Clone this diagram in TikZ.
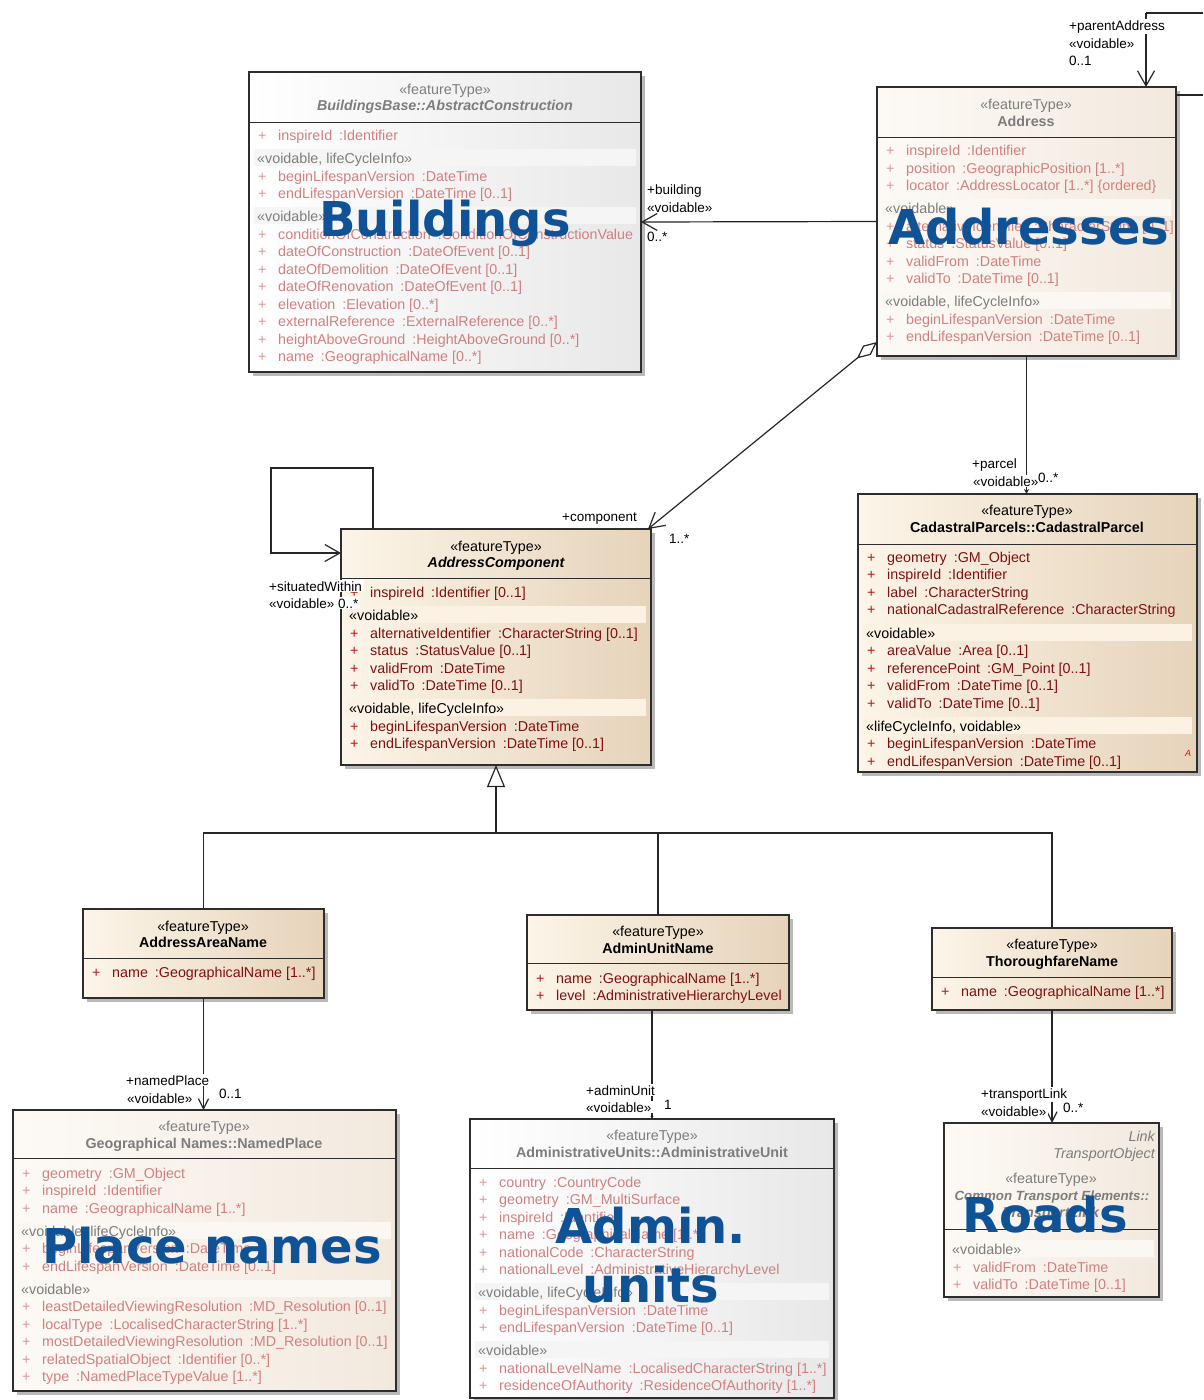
\documentclass[tikz,border=0pt]{standalone}
\usepackage{fontspec}
\setmainfont{Liberation Sans}
\newfontfamily\bigfont{DejaVu Sans}
\usetikzlibrary{arrows.meta,calc,fit}
\definecolor{fullL}{RGB}{252,245,232}
\definecolor{fullR}{RGB}{230,211,186}
\definecolor{fullBand}{RGB}{251,242,228}
\definecolor{fullPlus}{RGB}{190,20,20}
\definecolor{fullAttr}{RGB}{128,16,16}
\definecolor{fadL}{RGB}{253,250,246}
\definecolor{fadR}{RGB}{242,233,222}
\definecolor{fadBand}{RGB}{251,247,242}
\definecolor{fadPlus}{RGB}{222,150,150}
\definecolor{fadAttr}{RGB}{208,128,128}
\definecolor{fadHdr}{RGB}{125,125,125}
\definecolor{grayL}{RGB}{255,255,255}
\definecolor{grayR}{RGB}{232,232,232}
\definecolor{grayBand}{RGB}{245,245,245}
\definecolor{bordc}{RGB}{45,45,45}
\definecolor{shadc}{RGB}{185,185,185}
\definecolor{bigblue}{RGB}{16,82,150}
\newcount\tcnt
\newcommand\hfont{\fontsize{14.3}{16}\selectfont}
\newcommand\lfont{\fontsize{13.5}{15}\selectfont}
\newcommand\gp{\hspace{7pt}}
\newcommand\cbox[8]{%
  \fill[shadc] (#2+4,#3+4) rectangle (#4+4,#5+4);
  \node[fit={(#2,#3) (#4,#5)}, inner sep=0pt, outer sep=0pt, left color=#6, right color=#7, draw=bordc, line width=1.3pt] (#1) {};
  \draw[bordc, line width=1pt] (#2,#8) -- (#4,#8);}
\newcommand\tx[4][]{\global\advance\tcnt by 1\relax\node[txt,#1] (x\the\tcnt) at (#2,#3) {#4};}
\newcommand\attr[3]{\global\advance\tcnt by 1\relax
  \node[txt,text=\pc] (p\the\tcnt) at (#1+9,#2+5) {+};
  \node[txt,text=\ac] (a\the\tcnt) at (#1+29,#2+5) {#3};}
\newcommand\sect[4]{\global\advance\tcnt by 1\relax
  \fill[fill=\bandc] (#1+5,#3-9) rectangle (#2-5,#3+8);
  \node[txt,text=\hc] (s\the\tcnt) at (#1+8,#3+5) {#4};}
\begin{document}
\begin{tikzpicture}[x=1pt,y=-1pt,
  txt/.style={anchor=base west, inner sep=0pt, font=\hfont},
  lbl/.style={anchor=base west, inner sep=1pt, fill=white, font=\lfont, text=black},
  conn/.style={draw=black!85, line width=1.2pt},
  nav/.style={-{Straight Barb[length=15pt,width=17pt]}},
  big/.style={anchor=base, inner sep=0pt, text=bigblue, font=\bigfont\bfseries\fontsize{48}{50}\selectfont}]
\fill[white] (0,0) rectangle (1203,1400);
\useasboundingbox (0,0) rectangle (1203,1400);

% ---------------- Buildings
\def\pc{fadPlus}\def\ac{fadAttr}\def\hc{fadHdr}\def\bandc{grayBand}
\cbox{bld}{249}{72}{641}{372}{grayL}{grayR}{122}
\tx[anchor=base,text=fadHdr]{445}{94}{«featureType»}
\tx[anchor=base,text=fadHdr,font=\hfont\bfseries\itshape]{445}{110}{BuildingsBase::AbstractConstruction}
\attr{249}{135}{inspireId\gp:Identifier}
\sect{249}{641}{158}{«voidable, lifeCycleInfo»}
\attr{249}{176}{beginLifespanVersion\gp:DateTime}
\attr{249}{193}{endLifespanVersion\gp:DateTime [0..1]}
\sect{249}{641}{216}{«voidable»}
\attr{249}{234}{conditionOfConstruction\gp:ConditionOfConstructionValue}
\attr{249}{251}{dateOfConstruction\gp:DateOfEvent [0..1]}
\attr{249}{269}{dateOfDemolition\gp:DateOfEvent [0..1]}
\attr{249}{286}{dateOfRenovation\gp:DateOfEvent [0..1]}
\attr{249}{304}{elevation\gp:Elevation [0..*]}
\attr{249}{321}{externalReference\gp:ExternalReference [0..*]}
\attr{249}{339}{heightAboveGround\gp:HeightAboveGround [0..*]}
\attr{249}{356}{name\gp:GeographicalName [0..*]}

% ---------------- Address
\def\pc{fadPlus}\def\ac{fadAttr}\def\hc{fadHdr}\def\bandc{fadBand}
\cbox{addr}{877}{87}{1176}{356}{fadL}{fadR}{137}
\tx[anchor=base,text=fadHdr]{1026}{109}{«featureType»}
\tx[anchor=base,text=fadHdr,font=\hfont\bfseries]{1026}{126}{Address}
\attr{877}{150}{inspireId\gp:Identifier}
\attr{877}{168}{position\gp:GeographicPosition [1..*]}
\attr{877}{185}{locator\gp:AddressLocator [1..*] \{ordered\}}
\sect{877}{1176}{208}{«voidable»}
\attr{877}{226}{alternativeIdentifier\gp:CharacterString [0..1]}
\attr{877}{243}{status\gp:StatusValue [0..1]}
\attr{877}{261}{validFrom\gp:DateTime}
\attr{877}{278}{validTo\gp:DateTime [0..1]}
\sect{877}{1176}{301}{«voidable, lifeCycleInfo»}
\attr{877}{319}{beginLifespanVersion\gp:DateTime}
\attr{877}{336}{endLifespanVersion\gp:DateTime [0..1]}

% ---------------- AddressComponent
\def\pc{fullPlus}\def\ac{fullAttr}\def\hc{black}\def\bandc{fullBand}
\cbox{acomp}{341}{529}{651}{765}{fullL}{fullR}{578}
\tx[anchor=base]{496}{551}{«featureType»}
\tx[anchor=base,font=\hfont\bfseries\itshape]{496}{567}{AddressComponent}
\attr{341}{592}{inspireId\gp:Identifier [0..1]}
\sect{341}{651}{615}{«voidable»}
\attr{341}{633}{alternativeIdentifier\gp:CharacterString [0..1]}
\attr{341}{650}{status\gp:StatusValue [0..1]}
\attr{341}{668}{validFrom\gp:DateTime}
\attr{341}{685}{validTo\gp:DateTime [0..1]}
\sect{341}{651}{708}{«voidable, lifeCycleInfo»}
\attr{341}{726}{beginLifespanVersion\gp:DateTime}
\attr{341}{743}{endLifespanVersion\gp:DateTime [0..1]}

% ---------------- CadastralParcel
\cbox{parcel}{858}{494}{1197}{772}{fullL}{fullR}{544}
\tx[anchor=base]{1027}{515}{«featureType»}
\tx[anchor=base,font=\hfont\bfseries]{1027}{532}{CadastralParcels::CadastralParcel}
\attr{858}{557}{geometry\gp:GM\_Object}
\attr{858}{574}{inspireId\gp:Identifier}
\attr{858}{592}{label\gp:CharacterString}
\attr{858}{609}{nationalCadastralReference\gp:CharacterString}
\sect{858}{1197}{633}{«voidable»}
\attr{858}{650}{areaValue\gp:Area [0..1]}
\attr{858}{668}{referencePoint\gp:GM\_Point [0..1]}
\attr{858}{685}{validFrom\gp:DateTime [0..1]}
\attr{858}{703}{validTo\gp:DateTime [0..1]}
\sect{858}{1197}{726}{«lifeCycleInfo, voidable»}
\attr{858}{743}{beginLifespanVersion\gp:DateTime}
\attr{858}{761}{endLifespanVersion\gp:DateTime [0..1]}
\tx[text=red,font=\fontsize{9}{10}\selectfont\itshape]{1185}{756}{A}

% ---------------- AddressAreaName
\cbox{aan}{83}{909}{324}{998}{fullL}{fullR}{958}
\tx[anchor=base]{203}{931}{«featureType»}
\tx[anchor=base,font=\hfont\bfseries]{203}{947}{AddressAreaName}
\attr{83}{972}{name\gp:GeographicalName [1..*]}

% ---------------- AdminUnitName
\cbox{aun}{527}{915}{789}{1010}{fullL}{fullR}{963}
\tx[anchor=base]{658}{936}{«featureType»}
\tx[anchor=base,font=\hfont\bfseries]{658}{953}{AdminUnitName}
\attr{527}{978}{name\gp:GeographicalName [1..*]}
\attr{527}{995}{level\gp:AdministrativeHierarchyLevel}

% ---------------- ThoroughfareName
\cbox{thn}{932}{928}{1172}{1010}{fullL}{fullR}{977}
\tx[anchor=base]{1052}{949}{«featureType»}
\tx[anchor=base,font=\hfont\bfseries]{1052}{966}{ThoroughfareName}
\attr{932}{991}{name\gp:GeographicalName [1..*]}

% ---------------- NamedPlace
\def\pc{fadPlus}\def\ac{fadAttr}\def\hc{fadHdr}\def\bandc{fadBand}
\cbox{np}{13}{1110}{396}{1391}{fadL}{fadR}{1158}
\tx[anchor=base,text=fadHdr]{204}{1131}{«featureType»}
\tx[anchor=base,text=fadHdr,font=\hfont\bfseries]{204}{1148}{Geographical Names::NamedPlace}
\attr{13}{1173}{geometry\gp:GM\_Object}
\attr{13}{1190}{inspireId\gp:Identifier}
\attr{13}{1208}{name\gp:GeographicalName [1..*]}
\sect{13}{396}{1231}{«voidable, lifeCycleInfo»}
\attr{13}{1248}{beginLifespanVersion\gp:DateTime}
\attr{13}{1266}{endLifespanVersion\gp:DateTime [0..1]}
\sect{13}{396}{1289}{«voidable»}
\attr{13}{1306}{leastDetailedViewingResolution\gp:MD\_Resolution [0..1]}
\attr{13}{1324}{localType\gp:LocalisedCharacterString [1..*]}
\attr{13}{1341}{mostDetailedViewingResolution\gp:MD\_Resolution [0..1]}
\attr{13}{1359}{relatedSpatialObject\gp:Identifier [0..*]}
\attr{13}{1376}{type\gp:NamedPlaceTypeValue [1..*]}

% ---------------- AdministrativeUnit
\def\bandc{grayBand}
\cbox{adu}{470}{1119}{834}{1398}{grayL}{grayR}{1168}
\tx[anchor=base,text=fadHdr]{652}{1140}{«featureType»}
\tx[anchor=base,text=fadHdr,font=\hfont\bfseries]{652}{1157}{AdministrativeUnits::AdministrativeUnit}
\attr{470}{1182}{country\gp:CountryCode}
\attr{470}{1199}{geometry\gp:GM\_MultiSurface}
\attr{470}{1217}{inspireId\gp:Identifier}
\attr{470}{1234}{name\gp:GeographicalName [1..*]}
\attr{470}{1252}{nationalCode\gp:CharacterString}
\attr{470}{1269}{nationalLevel\gp:AdministrativeHierarchyLevel}
\sect{470}{834}{1292}{«voidable, lifeCycleInfo»}
\attr{470}{1310}{beginLifespanVersion\gp:DateTime}
\attr{470}{1327}{endLifespanVersion\gp:DateTime [0..1]}
\sect{470}{834}{1350}{«voidable»}
\attr{470}{1368}{nationalLevelName\gp:LocalisedCharacterString [1..*]}
\attr{470}{1385}{residenceOfAuthority\gp:ResidenceOfAuthority [1..*]}

% ---------------- TransportLink
\def\bandc{fadBand}
\cbox{link}{944}{1123}{1159}{1297}{fadL}{fadR}{1229}
\tx[anchor=base east,text=fadHdr,font=\hfont\itshape]{1155}{1141}{Link}
\tx[anchor=base east,text=fadHdr,font=\hfont\itshape]{1155}{1158}{TransportObject}
\tx[anchor=base,text=fadHdr]{1051}{1183}{«featureType»}
\tx[anchor=base,text=fadHdr,font=\fontsize{13.3}{15}\selectfont\bfseries\itshape]{1052}{1200}{Common Transport Elements::}
\tx[anchor=base,text=fadHdr,font=\hfont\bfseries\itshape]{1051}{1217}{TransportLink}
\sect{944}{1159}{1249}{«voidable»}
\attr{944}{1267}{validFrom\gp:DateTime}
\attr{944}{1284}{validTo\gp:DateTime [0..1]}

% ---------------- connectors
\coordinate (pa1) at (1146,13);
\coordinate (pa2) at (1203,13);
\coordinate (pa3) at (1203,95);
\draw[conn] (pa2) -- (pa1);
\draw[conn,nav] (pa1) -- (pa1 |- addr.north);
\draw[conn] (pa3) -- (pa3 -| addr.east);
\draw[conn,nav] (addr.west) -- (bld.east);
\draw[conn,{Diamond[open,fill=white,length=26pt,width=12pt]}-{Straight Barb[length=15pt,width=17pt]}]
  ($(addr.south west)+(0,-14)$) -- ($(acomp.north east)+(-3,0)$);
\draw[conn,-{Stealth[length=5pt,width=5pt]}] (addr.south) -- (addr.south |- parcel.north);
\draw[conn,nav] ($(acomp.north west)+(32,0)$) -- ++(0,-61) -- ++(-102,0) -- ++(0,85) -- ($(acomp.north west)+(0,24)$);
\coordinate (gj) at (496,833);
\draw[conn,-{Triangle[open,fill=white,length=22pt,width=18pt]}] (gj) -- (acomp.south);
\draw[conn] (aan.north) |- (gj) -| (thn.north);
\draw[conn] (aun.north) -- (aun.north |- gj);
\draw[conn,-{Straight Barb[length=10pt,width=10pt]}] (aan.south) -- (aan.south |- np.north);
\draw[conn,-{Stealth[length=3pt,width=3pt]}] (adu.north |- aun.south) -- (adu.north);
\draw[conn,-{Straight Barb[length=10pt,width=10pt]}] (thn.south) -- (thn.south |- link.north);

% ---------------- connector labels
\tx[lbl]{1068}{30}{+parentAddress}
\tx[lbl]{1068}{48}{«voidable»}
\tx[lbl]{1068}{65}{0..1}
\tx[lbl]{646}{194}{+building}
\tx[lbl]{646}{212}{«voidable»}
\tx[lbl]{646}{241}{0..*}
\tx[lbl,anchor=base east]{638}{521}{+component}
\tx[lbl]{668}{543}{1..*}
\tx[lbl,anchor=base east]{1018}{468}{+parcel}
\tx[lbl]{972}{486}{«voidable»}
\tx[lbl,fill=none]{1037}{482}{0..*}
\tx[lbl,inner xsep=2pt]{267}{591}{+situatedWithin}
\tx[lbl]{268}{608}{«voidable» 0..*}
\tx[lbl]{125}{1085}{+namedPlace}
\tx[lbl,fill=none]{126}{1103}{«voidable»}
\tx[lbl,fill=none]{218}{1098}{0..1}
\tx[lbl]{585}{1095}{+adminUnit}
\tx[lbl]{585}{1112}{«voidable»}
\tx[lbl,fill=none]{663}{1109}{1}
\tx[lbl]{980}{1098}{+transportLink}
\tx[lbl]{980}{1116}{«voidable»}
\tx[lbl,fill=none]{1062}{1112}{0..*}

% ---------------- overlay titles
\node[big] (ovB) at (445,236) {Buildings};
\node[big] (ovA) at (1029,244) {Addresses};
\node[big] (ovP) at (212,1263) {Place names};
\node[big] (ovU1) at (651,1243) {Admin.};
\node[big] (ovU2) at (651,1302) {units};
\node[big] (ovR) at (1045,1232) {Roads};
\end{tikzpicture}
\end{document}
